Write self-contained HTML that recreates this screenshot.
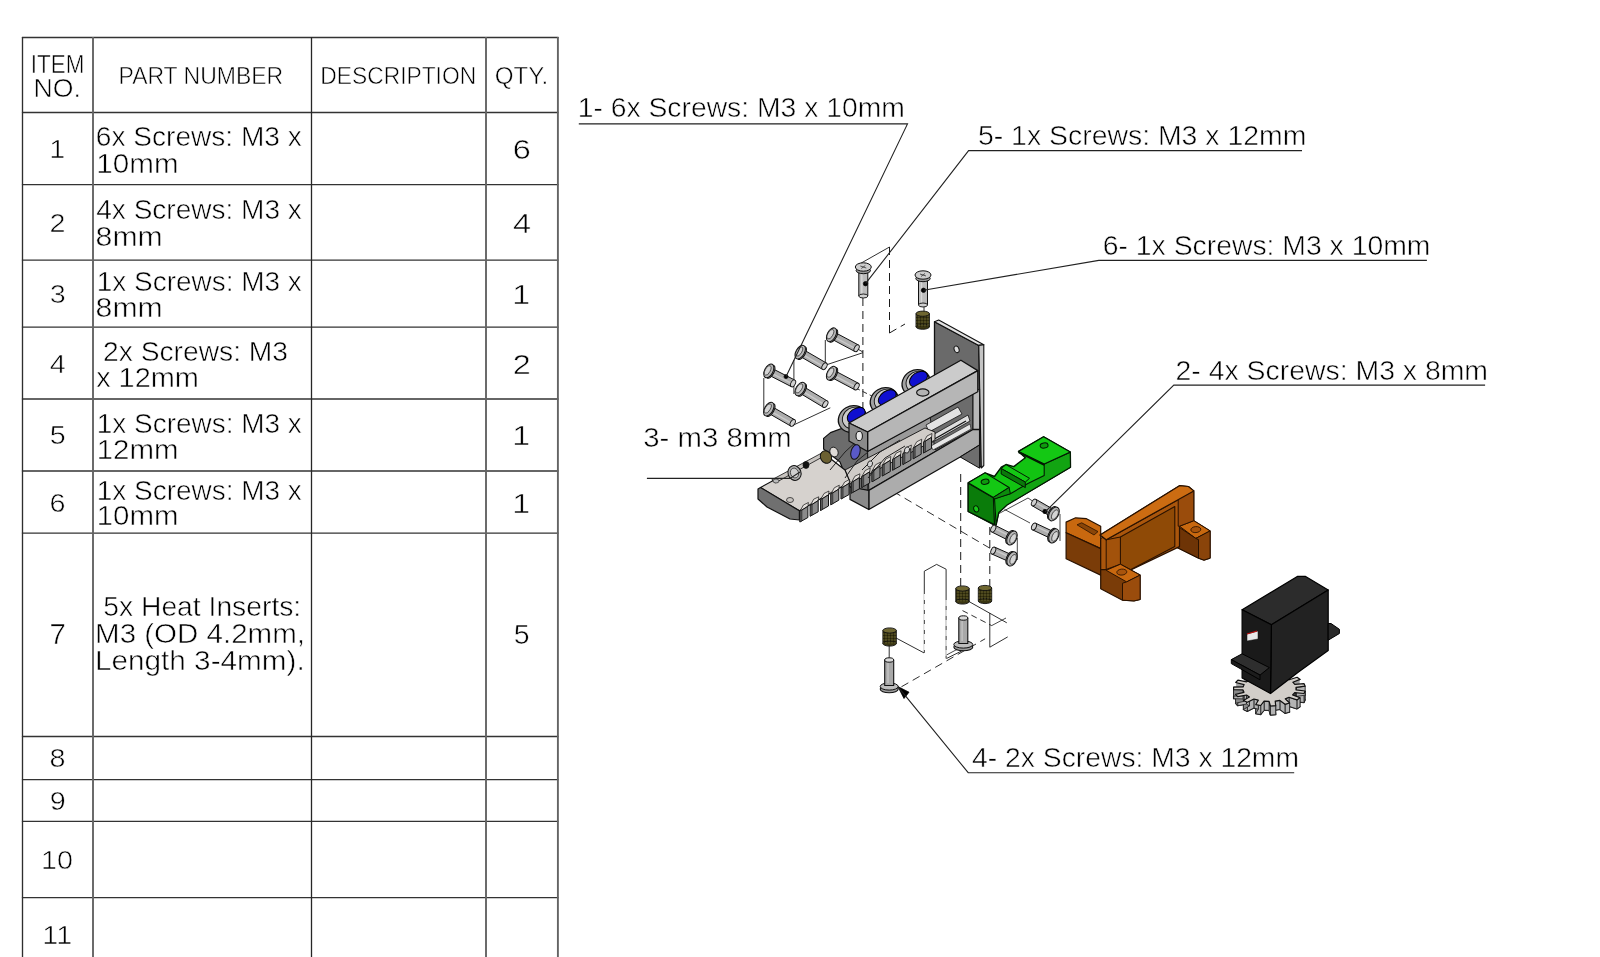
<!DOCTYPE html>
<html><head><meta charset="utf-8"><style>
html,body{margin:0;padding:0;background:#fff;}
body{width:1600px;height:957px;overflow:hidden;position:relative;}
svg{position:absolute;left:0;top:0;}
text{font-family:"Liberation Sans",sans-serif;}
#texts{stroke:#fff;stroke-width:0.55px;}
#textsvg{will-change:transform;}
</style></head><body>
<svg width="1600" height="957" viewBox="0 0 1600 957">
<g id="table">
<line x1="21.9" y1="37.5" x2="558.5" y2="37.5" stroke="#333" stroke-width="1.3"/>
<line x1="21.9" y1="112.5" x2="558.5" y2="112.5" stroke="#333" stroke-width="1.3"/>
<line x1="21.9" y1="184.7" x2="558.5" y2="184.7" stroke="#333" stroke-width="1.3"/>
<line x1="21.9" y1="260.1" x2="558.5" y2="260.1" stroke="#333" stroke-width="1.3"/>
<line x1="21.9" y1="327.2" x2="558.5" y2="327.2" stroke="#333" stroke-width="1.3"/>
<line x1="21.9" y1="399.0" x2="558.5" y2="399.0" stroke="#333" stroke-width="1.3"/>
<line x1="21.9" y1="471.0" x2="558.5" y2="471.0" stroke="#333" stroke-width="1.3"/>
<line x1="21.9" y1="533.2" x2="558.5" y2="533.2" stroke="#333" stroke-width="1.3"/>
<line x1="21.9" y1="736.5" x2="558.5" y2="736.5" stroke="#333" stroke-width="1.3"/>
<line x1="21.9" y1="779.6" x2="558.5" y2="779.6" stroke="#333" stroke-width="1.3"/>
<line x1="21.9" y1="821.4" x2="558.5" y2="821.4" stroke="#333" stroke-width="1.3"/>
<line x1="21.9" y1="897.6" x2="558.5" y2="897.6" stroke="#333" stroke-width="1.3"/>
<line x1="22.5" y1="36.9" x2="22.5" y2="960" stroke="#2e2e2e" stroke-width="1.35"/>
<line x1="93.0" y1="36.9" x2="93.0" y2="960" stroke="#646464" stroke-width="1.9"/>
<line x1="311.5" y1="36.9" x2="311.5" y2="960" stroke="#262626" stroke-width="1.3"/>
<line x1="486.0" y1="36.9" x2="486.0" y2="960" stroke="#646464" stroke-width="1.9"/>
<line x1="557.9" y1="36.9" x2="557.9" y2="960" stroke="#646464" stroke-width="1.9"/>
</g>
<g id="asm">
<defs><pattern id="knurl" width="3" height="3" patternUnits="userSpaceOnUse"><rect width="3" height="3" fill="none"/><circle cx="1" cy="1" r="0.7" fill="#76703a"/><circle cx="2.4" cy="2.4" r="0.5" fill="#1a1808"/></pattern></defs>
<polyline points="763.8,378.0 763.8,410.0" fill="none" stroke="#1a1a1a" stroke-width="0.9" />
<polyline points="793.9,360.0 793.9,394.0" fill="none" stroke="#1a1a1a" stroke-width="0.9" />
<polyline points="825.3,340.0 825.3,366.0" fill="none" stroke="#1a1a1a" stroke-width="0.9" />
<polyline points="792.7,425.4 830.3,407.8" fill="none" stroke="#1a1a1a" stroke-width="0.9" />
<polyline points="825.3,365.2 862.9,352.7" fill="none" stroke="#1a1a1a" stroke-width="0.9" />
<polyline points="856.0,348.0 862.9,352.0" fill="none" stroke="#1a1a1a" stroke-width="0.9" />
<polyline points="855.3,387.8 872.9,396.5" fill="none" stroke="#1a1a1a" stroke-width="0.9" stroke-dasharray="5,3"/>
<polyline points="862.9,298.0 862.9,470.0" fill="none" stroke="#1a1a1a" stroke-width="1.0" stroke-dasharray="8,5"/>
<polyline points="856.0,266.0 889.5,247.0" fill="none" stroke="#1a1a1a" stroke-width="0.9" />
<polyline points="889.5,247.0 889.5,333.0" fill="none" stroke="#1a1a1a" stroke-width="1.0" stroke-dasharray="8,5"/>
<polyline points="889.5,333.0 905.0,324.0" fill="none" stroke="#1a1a1a" stroke-width="1.0" stroke-dasharray="8,5"/>
<polyline points="924.0,305.0 924.0,313.0" fill="none" stroke="#1a1a1a" stroke-width="0.9" />
<polyline points="960.7,474.0 960.7,588.0" fill="none" stroke="#1a1a1a" stroke-width="1.0" stroke-dasharray="8,5"/>
<polyline points="989.8,527.0 989.8,588.0" fill="none" stroke="#1a1a1a" stroke-width="1.0" stroke-dasharray="8,5"/>
<polyline points="882.2,485.0 990.9,548.8" fill="none" stroke="#1a1a1a" stroke-width="0.9" stroke-dasharray="8,5"/>
<polyline points="999.0,513.5 1028.0,498.0 1034.0,502.0" fill="none" stroke="#1a1a1a" stroke-width="0.8" />
<polyline points="1004.5,509.4 1030.0,523.0" fill="none" stroke="#1a1a1a" stroke-width="0.8" />
<polyline points="1060.0,514.0 1060.0,541.0" fill="none" stroke="#1a1a1a" stroke-width="0.8" />
<polyline points="1017.3,538.0 1017.3,560.0" fill="none" stroke="#1a1a1a" stroke-width="0.8" />
<polyline points="924.3,652.9 924.3,571.2 936.6,564.4 946.1,569.2 946.1,658.5" fill="none" stroke="#1a1a1a" stroke-width="0.9" />
<polyline points="924.3,594.0 924.3,652.9" fill="none" stroke="#fff" stroke-width="1.2" stroke-dasharray="6,4"/>
<polyline points="946.1,600.0 946.1,658.5" fill="none" stroke="#fff" stroke-width="1.2" stroke-dasharray="6,4"/>
<polyline points="946.5,658.5 971.0,646.3" fill="none" stroke="#1a1a1a" stroke-width="0.9" />
<polyline points="946.5,655.0 969.0,643.0" fill="none" stroke="#1a1a1a" stroke-width="0.8" />
<polyline points="968.2,601.1 1006.8,622.8" fill="none" stroke="#1a1a1a" stroke-width="0.9" />
<polyline points="962.5,610.6 991.7,625.6" fill="none" stroke="#1a1a1a" stroke-width="0.9" stroke-dasharray="6,4"/>
<polyline points="989.8,613.0 989.8,647.2 1007.7,636.9" fill="none" stroke="#1a1a1a" stroke-width="0.9" />
<polyline points="991.7,625.6 1006.0,618.0" fill="none" stroke="#1a1a1a" stroke-width="0.8" />
<polyline points="901.4,686.8 985.1,638.8" fill="none" stroke="#1a1a1a" stroke-width="0.9" stroke-dasharray="8,5"/>
<polyline points="895.7,637.8 924.0,652.9" fill="none" stroke="#1a1a1a" stroke-width="0.9" />
<polyline points="889.2,643.0 889.2,660.0" fill="none" stroke="#1a1a1a" stroke-width="0.9" />
<polygon points="897.9,686.6 909.0,692.2 904.0,698.5" fill="#000" stroke="#000" stroke-width="0.8" stroke-linejoin="round" />
<polygon points="934.5,321.7 978.8,345.4 981.3,467.2 962.1,457.1 934.5,442.9" fill="#6a6a6a" stroke="#111" stroke-width="1.3" stroke-linejoin="round" />
<polygon points="934.5,321.7 938.7,320.0 983.8,344.7 978.8,345.4" fill="#e2e2e2" stroke="#111" stroke-width="1.1" stroke-linejoin="round" />
<polygon points="978.8,345.4 983.8,344.7 983.8,465.5 981.3,468.0" fill="#c4c4c4" stroke="#111" stroke-width="1.1" stroke-linejoin="round" />
<ellipse cx="956.6" cy="349.3" rx="2.4" ry="3.4" fill="#dcdcdc" stroke="#111" stroke-width="1.0" transform="rotate(-20 956.6 349.3)"/>
<polygon points="823.6,449.0 823.6,438.4 830.5,432.6 848.9,425.7 868.0,433.0 868.0,491.0 850.0,487.0 840.0,462.0" fill="#6c6c6c" stroke="#111" stroke-width="1.2" stroke-linejoin="round" />
<polygon points="867.6,451.5 973.0,393.5 973.0,429.5 868.8,490.4" fill="#9a9a9a" stroke="#111" stroke-width="1.0" stroke-linejoin="round" />
<polygon points="930.0,416.0 973.0,393.5 973.0,429.5 935.0,450.0" fill="#6c6c6c" stroke="#111" stroke-width="0.9" stroke-linejoin="round" />
<polygon points="926.0,425.0 958.0,407.0 962.0,414.0 929.0,432.0" fill="#e2e2e2" stroke="#111" stroke-width="0.8" stroke-linejoin="round" />
<polygon points="929.0,437.0 968.0,415.0 970.0,421.0 931.0,443.0" fill="#dedede" stroke="#111" stroke-width="0.8" stroke-linejoin="round" />
<polygon points="931.0,446.0 970.0,424.0 971.0,429.0 933.0,450.0" fill="#e6e6e6" stroke="#111" stroke-width="0.6" stroke-linejoin="round" />
<polyline points="931.0,441.0 966.0,421.0" fill="none" stroke="#111" stroke-width="1.3" />
<polygon points="973.0,393.0 979.6,389.0 979.6,445.0 973.0,449.0" fill="#b8b8b8" stroke="#111" stroke-width="1.0" stroke-linejoin="round" />
<polygon points="868.8,490.4 973.0,429.5 979.6,429.5 979.6,445.0 960.2,457.0 868.8,509.5" fill="#acacac" stroke="#111" stroke-width="1.3" stroke-linejoin="round" />
<polygon points="960.2,457.0 979.6,445.0 979.6,468.2" fill="#6e6e6e" stroke="#111" stroke-width="1.0" stroke-linejoin="round" />
<polygon points="850.0,487.0 868.8,490.4 868.8,509.5 850.0,499.4" fill="#8a8a8a" stroke="#111" stroke-width="1.2" stroke-linejoin="round" />
<polygon points="845.0,470.0 925.0,428.0 935.0,432.0 935.0,440.0 850.0,484.0" fill="#d0ccc8" stroke="#111" stroke-width="0.9" stroke-linejoin="round" />
<polygon points="760.5,487.5 823.6,453.3 845.0,470.0 850.0,482.0 799.4,510.8" fill="#d6d2ce" stroke="#111" stroke-width="1.2" stroke-linejoin="round" />
<polygon points="758.0,489.0 760.5,487.5 799.4,510.8 799.4,520.0 790.0,519.0 767.0,507.0 758.0,499.0" fill="#707070" stroke="#111" stroke-width="1.2" stroke-linejoin="round" />
<polygon points="771.8,479.8 823.6,452.0 826.0,455.0 775.0,483.0" fill="#c8c4c0" stroke="#111" stroke-width="0.8" stroke-linejoin="round" />
<polygon points="799.9,511.3 803.4,505.0 808.4,502.5 807.9,506.3" fill="#e4e0dc" stroke="#111" stroke-width="0.7" stroke-linejoin="round" />
<polygon points="799.9,511.3 807.9,506.3 807.9,517.5 799.9,522.0" fill="#8a8a8a" stroke="#111" stroke-width="1.0" stroke-linejoin="round" />
<polygon points="799.9,511.3 801.9,510.1 801.9,520.9 799.9,522.0" fill="#5a5a5a" stroke="#111" stroke-width="0.5" stroke-linejoin="round" />
<polygon points="810.2,505.6 813.7,499.2 818.7,496.8 818.2,500.6" fill="#e4e0dc" stroke="#111" stroke-width="0.7" stroke-linejoin="round" />
<polygon points="810.2,505.6 818.2,500.6 818.2,511.8 810.2,516.2" fill="#8a8a8a" stroke="#111" stroke-width="1.0" stroke-linejoin="round" />
<polygon points="810.2,505.6 812.2,504.4 812.2,515.1 810.2,516.2" fill="#5a5a5a" stroke="#111" stroke-width="0.5" stroke-linejoin="round" />
<polygon points="820.5,499.8 824.0,493.5 829.0,491.0 828.5,494.8" fill="#e4e0dc" stroke="#111" stroke-width="0.7" stroke-linejoin="round" />
<polygon points="820.5,499.8 828.5,494.8 828.5,506.0 820.5,510.5" fill="#8a8a8a" stroke="#111" stroke-width="1.0" stroke-linejoin="round" />
<polygon points="820.5,499.8 822.5,498.6 822.5,509.4 820.5,510.5" fill="#5a5a5a" stroke="#111" stroke-width="0.5" stroke-linejoin="round" />
<polygon points="830.8,494.1 834.3,487.8 839.3,485.2 838.8,489.1" fill="#e4e0dc" stroke="#111" stroke-width="0.7" stroke-linejoin="round" />
<polygon points="830.8,494.1 838.8,489.1 838.8,500.2 830.8,504.8" fill="#8a8a8a" stroke="#111" stroke-width="1.0" stroke-linejoin="round" />
<polygon points="830.8,494.1 832.8,492.9 832.8,503.6 830.8,504.8" fill="#5a5a5a" stroke="#111" stroke-width="0.5" stroke-linejoin="round" />
<polygon points="841.1,488.3 844.6,482.0 849.6,479.5 849.1,483.3" fill="#e4e0dc" stroke="#111" stroke-width="0.7" stroke-linejoin="round" />
<polygon points="841.1,488.3 849.1,483.3 849.1,494.5 841.1,499.0" fill="#8a8a8a" stroke="#111" stroke-width="1.0" stroke-linejoin="round" />
<polygon points="841.1,488.3 843.1,487.1 843.1,497.9 841.1,499.0" fill="#5a5a5a" stroke="#111" stroke-width="0.5" stroke-linejoin="round" />
<polygon points="851.4,482.6 854.9,476.2 859.9,473.8 859.4,477.6" fill="#e4e0dc" stroke="#111" stroke-width="0.7" stroke-linejoin="round" />
<polygon points="851.4,482.6 859.4,477.6 859.4,488.8 851.4,493.2" fill="#8a8a8a" stroke="#111" stroke-width="1.0" stroke-linejoin="round" />
<polygon points="851.4,482.6 853.4,481.4 853.4,492.1 851.4,493.2" fill="#5a5a5a" stroke="#111" stroke-width="0.5" stroke-linejoin="round" />
<polygon points="861.7,476.8 865.2,470.5 870.2,468.0 869.7,471.8" fill="#e4e0dc" stroke="#111" stroke-width="0.7" stroke-linejoin="round" />
<polygon points="861.7,476.8 869.7,471.8 869.7,483.0 861.7,487.5" fill="#8a8a8a" stroke="#111" stroke-width="1.0" stroke-linejoin="round" />
<polygon points="861.7,476.8 863.7,475.6 863.7,486.4 861.7,487.5" fill="#5a5a5a" stroke="#111" stroke-width="0.5" stroke-linejoin="round" />
<polygon points="872.0,471.1 875.5,464.8 880.5,462.2 880.0,466.1" fill="#e4e0dc" stroke="#111" stroke-width="0.7" stroke-linejoin="round" />
<polygon points="872.0,471.1 880.0,466.1 880.0,477.2 872.0,481.8" fill="#8a8a8a" stroke="#111" stroke-width="1.0" stroke-linejoin="round" />
<polygon points="872.0,471.1 874.0,469.9 874.0,480.6 872.0,481.8" fill="#5a5a5a" stroke="#111" stroke-width="0.5" stroke-linejoin="round" />
<polygon points="882.3,465.3 885.8,459.0 890.8,456.5 890.3,460.3" fill="#e4e0dc" stroke="#111" stroke-width="0.7" stroke-linejoin="round" />
<polygon points="882.3,465.3 890.3,460.3 890.3,471.5 882.3,476.0" fill="#8a8a8a" stroke="#111" stroke-width="1.0" stroke-linejoin="round" />
<polygon points="882.3,465.3 884.3,464.1 884.3,474.9 882.3,476.0" fill="#5a5a5a" stroke="#111" stroke-width="0.5" stroke-linejoin="round" />
<polygon points="892.6,459.6 896.1,453.2 901.1,450.8 900.6,454.6" fill="#e4e0dc" stroke="#111" stroke-width="0.7" stroke-linejoin="round" />
<polygon points="892.6,459.6 900.6,454.6 900.6,465.8 892.6,470.2" fill="#8a8a8a" stroke="#111" stroke-width="1.0" stroke-linejoin="round" />
<polygon points="892.6,459.6 894.6,458.4 894.6,469.1 892.6,470.2" fill="#5a5a5a" stroke="#111" stroke-width="0.5" stroke-linejoin="round" />
<polygon points="902.9,453.8 906.4,447.5 911.4,445.0 910.9,448.8" fill="#e4e0dc" stroke="#111" stroke-width="0.7" stroke-linejoin="round" />
<polygon points="902.9,453.8 910.9,448.8 910.9,460.0 902.9,464.5" fill="#8a8a8a" stroke="#111" stroke-width="1.0" stroke-linejoin="round" />
<polygon points="902.9,453.8 904.9,452.6 904.9,463.4 902.9,464.5" fill="#5a5a5a" stroke="#111" stroke-width="0.5" stroke-linejoin="round" />
<polygon points="913.2,448.1 916.7,441.8 921.7,439.2 921.2,443.1" fill="#e4e0dc" stroke="#111" stroke-width="0.7" stroke-linejoin="round" />
<polygon points="913.2,448.1 921.2,443.1 921.2,454.2 913.2,458.8" fill="#8a8a8a" stroke="#111" stroke-width="1.0" stroke-linejoin="round" />
<polygon points="913.2,448.1 915.2,446.9 915.2,457.6 913.2,458.8" fill="#5a5a5a" stroke="#111" stroke-width="0.5" stroke-linejoin="round" />
<polygon points="923.5,442.3 927.0,436.0 932.0,433.5 931.5,437.3" fill="#e4e0dc" stroke="#111" stroke-width="0.7" stroke-linejoin="round" />
<polygon points="923.5,442.3 931.5,437.3 931.5,448.5 923.5,453.0" fill="#8a8a8a" stroke="#111" stroke-width="1.0" stroke-linejoin="round" />
<polygon points="923.5,442.3 925.5,441.1 925.5,451.9 923.5,453.0" fill="#5a5a5a" stroke="#111" stroke-width="0.5" stroke-linejoin="round" />
<polyline points="830.0,470.0 845.0,452.0 858.0,440.0" fill="none" stroke="#222" stroke-width="1.0" />
<polyline points="845.0,478.0 857.0,461.0 868.0,452.0" fill="none" stroke="#222" stroke-width="1.0" />
<polyline points="862.0,470.0 880.0,452.0 900.0,440.0" fill="none" stroke="#222" stroke-width="1.0" />
<polyline points="868.0,478.0 885.0,458.0 905.0,446.0" fill="none" stroke="#222" stroke-width="1.0" />
<ellipse cx="870.0" cy="464.0" rx="2.4" ry="3.2" fill="#d8d8d8" stroke="#111" stroke-width="0.8" transform="rotate(20 870.0 464.0)"/>
<ellipse cx="907.0" cy="450.0" rx="2.4" ry="3.2" fill="#d8d8d8" stroke="#111" stroke-width="0.8" transform="rotate(20 907.0 450.0)"/>
<ellipse cx="852.5" cy="419.0" rx="14.5" ry="13" fill="#a2a2a2" stroke="#111" stroke-width="1.3" transform="rotate(-30 852.5 419.0)"/>
<ellipse cx="854.0" cy="418.0" rx="12" ry="10.5" fill="#cacaca" stroke="#111" stroke-width="0.9" transform="rotate(-30 854.0 418.0)"/>
<ellipse cx="856.2" cy="415.2" rx="10" ry="6.5" fill="#1010d0" stroke="#000" stroke-width="1.0" transform="rotate(-35 856.2 415.2)"/>
<ellipse cx="884.4" cy="401.0" rx="14.5" ry="13" fill="#a2a2a2" stroke="#111" stroke-width="1.3" transform="rotate(-30 884.4 401.0)"/>
<ellipse cx="885.9" cy="400.0" rx="12" ry="10.5" fill="#cacaca" stroke="#111" stroke-width="0.9" transform="rotate(-30 885.9 400.0)"/>
<ellipse cx="887.3" cy="397.6" rx="10" ry="6.5" fill="#1010d0" stroke="#000" stroke-width="1.0" transform="rotate(-35 887.3 397.6)"/>
<ellipse cx="916.2" cy="383.0" rx="14.5" ry="13" fill="#a2a2a2" stroke="#111" stroke-width="1.3" transform="rotate(-30 916.2 383.0)"/>
<ellipse cx="917.7" cy="382.0" rx="12" ry="10.5" fill="#cacaca" stroke="#111" stroke-width="0.9" transform="rotate(-30 917.7 382.0)"/>
<ellipse cx="918.4" cy="379.0" rx="10" ry="6.5" fill="#1010d0" stroke="#000" stroke-width="1.0" transform="rotate(-35 918.4 379.0)"/>
<polygon points="849.0,423.0 960.9,360.2 977.8,370.6 867.6,432.0" fill="#cbcbcb" stroke="#111" stroke-width="1.3" stroke-linejoin="round" />
<polygon points="867.6,432.0 977.8,370.6 977.8,391.7 867.6,451.5" fill="#b6b6b6" stroke="#111" stroke-width="1.3" stroke-linejoin="round" />
<polygon points="849.0,423.0 867.6,432.0 867.6,451.5 849.0,441.0" fill="#8a8a8a" stroke="#111" stroke-width="1.2" stroke-linejoin="round" />
<ellipse cx="859.2" cy="436.0" rx="3.2" ry="4.6" fill="#e8e8e8" stroke="#111" stroke-width="1.0" transform="rotate(0 859.2 436.0)"/>
<ellipse cx="922.8" cy="392.5" rx="6.2" ry="3.6" fill="#b4b4b4" stroke="#111" stroke-width="1.1" transform="rotate(0 922.8 392.5)"/>
<ellipse cx="855.5" cy="452.0" rx="4.5" ry="7.5" fill="#5a5ac8" stroke="#111" stroke-width="1.0" transform="rotate(15 855.5 452.0)"/>
<ellipse cx="826.0" cy="457.0" rx="5.5" ry="6.5" fill="#6b6032" stroke="#111" stroke-width="1.0" transform="rotate(-25 826.0 457.0)"/>
<ellipse cx="834.0" cy="452.0" rx="4" ry="5" fill="#dedad6" stroke="#111" stroke-width="0.8" transform="rotate(-25 834.0 452.0)"/>
<ellipse cx="806.0" cy="465.0" rx="3" ry="3.4" fill="#111" stroke="#111" stroke-width="0.8" transform="rotate(0 806.0 465.0)"/>
<ellipse cx="794.5" cy="473.0" rx="6.5" ry="7.5" fill="#b0b0b0" stroke="#111" stroke-width="1.0" transform="rotate(-20 794.5 473.0)"/>
<ellipse cx="794.5" cy="473.0" rx="4" ry="5" fill="#cfcfcf" stroke="#111" stroke-width="0.6" transform="rotate(-20 794.5 473.0)"/>
<ellipse cx="776.0" cy="481.0" rx="3" ry="2" fill="#bbb" stroke="#111" stroke-width="0.6" transform="rotate(0 776.0 481.0)"/>
<ellipse cx="790.0" cy="500.0" rx="3.5" ry="2.5" fill="#c8c4c0" stroke="#111" stroke-width="0.7" transform="rotate(0 790.0 500.0)"/>
<polygon points="829.8,338.1 854.9,351.5 858.3,344.9 833.2,331.5" fill="#adadad" stroke="#111" stroke-width="1.0" stroke-linejoin="round" />
<polyline points="833.8,336.9 854.5,348.0" fill="none" stroke="#cacaca" stroke-width="1.4" />
<ellipse cx="856.6" cy="348.2" rx="2.2" ry="3.7" fill="#d0d0d0" stroke="#111" stroke-width="0.9" transform="rotate(28.09617756072281 856.6 348.2)"/>
<ellipse cx="833.3" cy="335.7" rx="3.3600000000000003" ry="7.125" fill="#9c9c9c" stroke="#111" stroke-width="1.0" transform="rotate(28.09617756072281 833.3 335.7)"/>
<ellipse cx="831.5" cy="334.8" rx="4.2" ry="7.5" fill="#b8b8b8" stroke="#111" stroke-width="1.0" transform="rotate(28.09617756072281 831.5 334.8)"/>
<ellipse cx="830.4" cy="334.2" rx="2.52" ry="5.25" fill="#d4d4d4" stroke="#111" stroke-width="0.6" transform="rotate(28.09617756072281 830.4 334.2)"/>
<polygon points="798.3,355.3 822.6,369.4 826.4,363.0 802.1,348.9" fill="#adadad" stroke="#111" stroke-width="1.0" stroke-linejoin="round" />
<polyline points="802.4,354.3 822.4,365.9" fill="none" stroke="#cacaca" stroke-width="1.4" />
<ellipse cx="824.5" cy="366.2" rx="2.2" ry="3.7" fill="#d0d0d0" stroke="#111" stroke-width="0.9" transform="rotate(30.12431799836119 824.5 366.2)"/>
<ellipse cx="801.9" cy="353.1" rx="3.3600000000000003" ry="7.125" fill="#9c9c9c" stroke="#111" stroke-width="1.0" transform="rotate(30.12431799836119 801.9 353.1)"/>
<ellipse cx="800.2" cy="352.1" rx="4.2" ry="7.5" fill="#b8b8b8" stroke="#111" stroke-width="1.0" transform="rotate(30.12431799836119 800.2 352.1)"/>
<ellipse cx="799.2" cy="351.5" rx="2.52" ry="5.25" fill="#d4d4d4" stroke="#111" stroke-width="0.6" transform="rotate(30.12431799836119 799.2 351.5)"/>
<polygon points="767.1,374.2 791.4,386.7 794.8,380.1 770.5,367.6" fill="#adadad" stroke="#111" stroke-width="1.0" stroke-linejoin="round" />
<polyline points="771.1,373.0 791.0,383.2" fill="none" stroke="#cacaca" stroke-width="1.4" />
<ellipse cx="793.1" cy="383.4" rx="2.2" ry="3.7" fill="#d0d0d0" stroke="#111" stroke-width="0.9" transform="rotate(27.221438919403923 793.1 383.4)"/>
<ellipse cx="770.6" cy="371.8" rx="3.3600000000000003" ry="7.125" fill="#9c9c9c" stroke="#111" stroke-width="1.0" transform="rotate(27.221438919403923 770.6 371.8)"/>
<ellipse cx="768.8" cy="370.9" rx="4.2" ry="7.5" fill="#b8b8b8" stroke="#111" stroke-width="1.0" transform="rotate(27.221438919403923 768.8 370.9)"/>
<ellipse cx="767.7" cy="370.4" rx="2.52" ry="5.25" fill="#d4d4d4" stroke="#111" stroke-width="0.6" transform="rotate(27.221438919403923 767.7 370.4)"/>
<polygon points="829.8,376.5 854.9,389.8 858.3,383.2 833.2,369.9" fill="#adadad" stroke="#111" stroke-width="1.0" stroke-linejoin="round" />
<polyline points="833.8,375.3 854.5,386.3" fill="none" stroke="#cacaca" stroke-width="1.4" />
<ellipse cx="856.6" cy="386.5" rx="2.2" ry="3.7" fill="#d0d0d0" stroke="#111" stroke-width="0.9" transform="rotate(27.91824313085768 856.6 386.5)"/>
<ellipse cx="833.3" cy="374.1" rx="3.3600000000000003" ry="7.125" fill="#9c9c9c" stroke="#111" stroke-width="1.0" transform="rotate(27.91824313085768 833.3 374.1)"/>
<ellipse cx="831.5" cy="373.2" rx="4.2" ry="7.5" fill="#b8b8b8" stroke="#111" stroke-width="1.0" transform="rotate(27.91824313085768 831.5 373.2)"/>
<ellipse cx="830.4" cy="372.6" rx="2.52" ry="5.25" fill="#d4d4d4" stroke="#111" stroke-width="0.6" transform="rotate(27.91824313085768 830.4 372.6)"/>
<polygon points="798.3,392.2 823.4,407.3 827.2,400.9 802.1,385.8" fill="#adadad" stroke="#111" stroke-width="1.0" stroke-linejoin="round" />
<polyline points="802.4,391.2 823.2,403.8" fill="none" stroke="#cacaca" stroke-width="1.4" />
<ellipse cx="825.3" cy="404.1" rx="2.2" ry="3.7" fill="#d0d0d0" stroke="#111" stroke-width="0.9" transform="rotate(31.030847578122962 825.3 404.1)"/>
<ellipse cx="801.9" cy="390.0" rx="3.3600000000000003" ry="7.125" fill="#9c9c9c" stroke="#111" stroke-width="1.0" transform="rotate(31.030847578122962 801.9 390.0)"/>
<ellipse cx="800.2" cy="389.0" rx="4.2" ry="7.5" fill="#b8b8b8" stroke="#111" stroke-width="1.0" transform="rotate(31.030847578122962 800.2 389.0)"/>
<ellipse cx="799.2" cy="388.4" rx="2.52" ry="5.25" fill="#d4d4d4" stroke="#111" stroke-width="0.6" transform="rotate(31.030847578122962 799.2 388.4)"/>
<polygon points="766.9,412.3 790.8,426.1 794.6,419.7 770.7,405.9" fill="#adadad" stroke="#111" stroke-width="1.0" stroke-linejoin="round" />
<polyline points="771.0,411.3 790.6,422.6" fill="none" stroke="#cacaca" stroke-width="1.4" />
<ellipse cx="792.7" cy="422.9" rx="2.2" ry="3.7" fill="#d0d0d0" stroke="#111" stroke-width="0.9" transform="rotate(30.002388684520938 792.7 422.9)"/>
<ellipse cx="770.5" cy="410.1" rx="3.3600000000000003" ry="7.125" fill="#9c9c9c" stroke="#111" stroke-width="1.0" transform="rotate(30.002388684520938 770.5 410.1)"/>
<ellipse cx="768.8" cy="409.1" rx="4.2" ry="7.5" fill="#b8b8b8" stroke="#111" stroke-width="1.0" transform="rotate(30.002388684520938 768.8 409.1)"/>
<ellipse cx="767.8" cy="408.5" rx="2.52" ry="5.25" fill="#d4d4d4" stroke="#111" stroke-width="0.6" transform="rotate(30.002388684520938 767.8 408.5)"/>
<ellipse cx="786.0" cy="376.6" rx="2" ry="2" fill="#000" stroke="#111" stroke-width="0.8" transform="rotate(0 786.0 376.6)"/>
<polygon points="858.8,270.0 867.8,270.0 867.8,296.0 858.8,296.0" fill="#bcbcbc" stroke="#111" stroke-width="1.0" stroke-linejoin="round" />
<polyline points="861.8,273.0 861.8,294.0" fill="none" stroke="#d8d8d8" stroke-width="1.4" />
<ellipse cx="863.3" cy="296.0" rx="4.5" ry="2" fill="#d0d0d0" stroke="#111" stroke-width="0.9" transform="rotate(0 863.3 296.0)"/>
<ellipse cx="863.3" cy="270.5" rx="7.2" ry="3.2" fill="#9a9a9a" stroke="#111" stroke-width="1.0" transform="rotate(0 863.3 270.5)"/>
<ellipse cx="863.3" cy="267.0" rx="8" ry="4.2" fill="#cdcdcd" stroke="#111" stroke-width="1.0" transform="rotate(0 863.3 267.0)"/>
<polyline points="860.3,266.0 866.3,268.0" fill="none" stroke="#333" stroke-width="0.8" />
<polyline points="861.3,268.5 865.3,265.5" fill="none" stroke="#333" stroke-width="0.8" />
<polygon points="918.5,278.0 927.5,278.0 927.5,305.0 918.5,305.0" fill="#bcbcbc" stroke="#111" stroke-width="1.0" stroke-linejoin="round" />
<polyline points="921.5,281.0 921.5,303.0" fill="none" stroke="#d8d8d8" stroke-width="1.4" />
<ellipse cx="923.0" cy="305.0" rx="4.5" ry="2" fill="#d0d0d0" stroke="#111" stroke-width="0.9" transform="rotate(0 923.0 305.0)"/>
<ellipse cx="923.0" cy="278.5" rx="7.2" ry="3.2" fill="#9a9a9a" stroke="#111" stroke-width="1.0" transform="rotate(0 923.0 278.5)"/>
<ellipse cx="923.0" cy="275.0" rx="8" ry="4.2" fill="#cdcdcd" stroke="#111" stroke-width="1.0" transform="rotate(0 923.0 275.0)"/>
<polyline points="920.0,274.0 926.0,276.0" fill="none" stroke="#333" stroke-width="0.8" />
<polyline points="921.0,276.5 925.0,273.5" fill="none" stroke="#333" stroke-width="0.8" />
<ellipse cx="865.5" cy="283.7" rx="2.2" ry="2.2" fill="#000" stroke="#111" stroke-width="0.8" transform="rotate(0 865.5 283.7)"/>
<ellipse cx="923.5" cy="290.3" rx="2.2" ry="2.2" fill="#000" stroke="#111" stroke-width="0.8" transform="rotate(0 923.5 290.3)"/>
<ellipse cx="889.2" cy="689.0" rx="9" ry="3.8" fill="#9a9a9a" stroke="#111" stroke-width="1.1" transform="rotate(0 889.2 689.0)"/>
<ellipse cx="889.2" cy="686.5" rx="9" ry="3.6" fill="#bdbdbd" stroke="#111" stroke-width="1.0" transform="rotate(0 889.2 686.5)"/>
<polygon points="884.7,660.0 893.7,660.0 893.7,685.5 884.7,685.5" fill="#a8a8a8" stroke="#111" stroke-width="1.1" stroke-linejoin="round" />
<polyline points="888.0,662.0 888.0,683.0" fill="none" stroke="#c4c4c4" stroke-width="1.4" />
<ellipse cx="889.2" cy="660.0" rx="4.5" ry="2.2" fill="#dadada" stroke="#111" stroke-width="1.0" transform="rotate(0 889.2 660.0)"/>
<ellipse cx="963.3" cy="647.0" rx="9.5" ry="3.8" fill="#9a9a9a" stroke="#111" stroke-width="1.1" transform="rotate(0 963.3 647.0)"/>
<ellipse cx="963.3" cy="644.5" rx="9.5" ry="3.6" fill="#bdbdbd" stroke="#111" stroke-width="1.0" transform="rotate(0 963.3 644.5)"/>
<polygon points="958.8,618.0 967.8,618.0 967.8,643.5 958.8,643.5" fill="#a8a8a8" stroke="#111" stroke-width="1.1" stroke-linejoin="round" />
<polyline points="962.1,620.0 962.1,641.0" fill="none" stroke="#c4c4c4" stroke-width="1.4" />
<ellipse cx="963.3" cy="618.0" rx="4.5" ry="2.2" fill="#dadada" stroke="#111" stroke-width="1.0" transform="rotate(0 963.3 618.0)"/>
<polygon points="916.0,313.7 929.4,313.7 929.4,326.7 916.0,326.7" fill="#36320f" stroke="#111" stroke-width="0.9" stroke-linejoin="round" />
<ellipse cx="922.7" cy="326.7" rx="6.7" ry="2.6" fill="#3a3612" stroke="#111" stroke-width="0.9" transform="rotate(0 922.7 326.7)"/>
<polygon points="916.0,313.7 929.4,313.7 929.4,326.7 916.0,326.7" fill="url(#knurl)" stroke="none" stroke-width="0" stroke-linejoin="round" />
<ellipse cx="922.7" cy="313.7" rx="6.7" ry="2.6" fill="#6e6630" stroke="#111" stroke-width="0.9" transform="rotate(0 922.7 313.7)"/>
<polygon points="955.8,588.5 969.2,588.5 969.2,601.5 955.8,601.5" fill="#36320f" stroke="#111" stroke-width="0.9" stroke-linejoin="round" />
<ellipse cx="962.5" cy="601.5" rx="6.7" ry="2.6" fill="#3a3612" stroke="#111" stroke-width="0.9" transform="rotate(0 962.5 601.5)"/>
<polygon points="955.8,588.5 969.2,588.5 969.2,601.5 955.8,601.5" fill="url(#knurl)" stroke="none" stroke-width="0" stroke-linejoin="round" />
<ellipse cx="962.5" cy="588.5" rx="6.7" ry="2.6" fill="#6e6630" stroke="#111" stroke-width="0.9" transform="rotate(0 962.5 588.5)"/>
<polygon points="978.3,588.0 991.7,588.0 991.7,601.0 978.3,601.0" fill="#36320f" stroke="#111" stroke-width="0.9" stroke-linejoin="round" />
<ellipse cx="985.0" cy="601.0" rx="6.7" ry="2.6" fill="#3a3612" stroke="#111" stroke-width="0.9" transform="rotate(0 985.0 601.0)"/>
<polygon points="978.3,588.0 991.7,588.0 991.7,601.0 978.3,601.0" fill="url(#knurl)" stroke="none" stroke-width="0" stroke-linejoin="round" />
<ellipse cx="985.0" cy="588.0" rx="6.7" ry="2.6" fill="#6e6630" stroke="#111" stroke-width="0.9" transform="rotate(0 985.0 588.0)"/>
<polygon points="882.9,630.5 896.3,630.5 896.3,643.5 882.9,643.5" fill="#36320f" stroke="#111" stroke-width="0.9" stroke-linejoin="round" />
<ellipse cx="889.6" cy="643.5" rx="6.7" ry="2.6" fill="#3a3612" stroke="#111" stroke-width="0.9" transform="rotate(0 889.6 643.5)"/>
<polygon points="882.9,630.5 896.3,630.5 896.3,643.5 882.9,643.5" fill="url(#knurl)" stroke="none" stroke-width="0" stroke-linejoin="round" />
<ellipse cx="889.6" cy="630.5" rx="6.7" ry="2.6" fill="#6e6630" stroke="#111" stroke-width="0.9" transform="rotate(0 889.6 630.5)"/>
<polygon points="968.2,482.8 985.1,472.9 994.5,476.5 1001.3,467.1 1006.0,464.5 1013.8,466.6 1025.3,457.7 1018.5,451.4 1043.6,436.8 1070.3,452.0 1070.5,467.2 1007.0,504.9 998.7,512.6 996.1,525.1 994.5,525.1 968.2,511.5" fill="#12c412" stroke="#031803" stroke-width="1.4" stroke-linejoin="round" />
<polygon points="994.5,498.5 1010.4,493.7 1027.9,483.5 1044.2,475.4 1044.2,464.1 1070.2,452.2 1070.5,467.2 1007.0,504.9 998.7,512.6 996.1,524.6" fill="#12a412" stroke="#031803" stroke-width="1.1" stroke-linejoin="round" />
<polygon points="968.2,483.3 993.4,497.7 994.5,524.6 968.2,511.5" fill="#0a7c0a" stroke="#031803" stroke-width="1.2" stroke-linejoin="round" />
<polygon points="968.2,482.8 985.1,472.9 1009.1,487.5 993.4,497.4" fill="#14c814" stroke="#031803" stroke-width="1.1" stroke-linejoin="round" />
<polygon points="993.4,497.4 1009.1,487.5 1010.4,493.7 994.5,499.0" fill="#0c8a0c" stroke="#031803" stroke-width="1.0" stroke-linejoin="round" />
<polygon points="1001.2,468.5 1006.0,464.7 1029.5,478.3 1025.3,482.1" fill="#14c814" stroke="#031803" stroke-width="1.0" stroke-linejoin="round" />
<polygon points="1001.2,468.5 1025.3,482.1 1025.3,487.6 1001.2,474.0" fill="#0a7a0a" stroke="#031803" stroke-width="1.0" stroke-linejoin="round" />
<polygon points="1018.5,451.4 1043.6,436.8 1070.3,452.0 1044.2,464.1" fill="#14c814" stroke="#031803" stroke-width="1.1" stroke-linejoin="round" />
<polyline points="1018.5,452.2 1044.2,464.9" fill="none" stroke="#031803" stroke-width="2.0" />
<ellipse cx="985.1" cy="481.7" rx="4" ry="2.6" fill="#0e9a0e" stroke="#031803" stroke-width="1.0" transform="rotate(-10 985.1 481.7)"/>
<ellipse cx="1044.1" cy="445.5" rx="4" ry="2.6" fill="#0e9a0e" stroke="#031803" stroke-width="1.0" transform="rotate(-10 1044.1 445.5)"/>
<ellipse cx="976.2" cy="508.9" rx="2.4" ry="3.2" fill="#18c818" stroke="#031803" stroke-width="1.0" transform="rotate(-20 976.2 508.9)"/>
<polygon points="1055.8,510.8 1035.9,499.3 1032.1,505.7 1052.0,517.2" fill="#adadad" stroke="#111" stroke-width="1.0" stroke-linejoin="round" />
<polyline points="1051.7,511.8 1036.1,502.8" fill="none" stroke="#cacaca" stroke-width="1.4" />
<ellipse cx="1034.0" cy="502.5" rx="2.2" ry="3.7" fill="#d0d0d0" stroke="#111" stroke-width="0.9" transform="rotate(-149.9768359395422 1034.0 502.5)"/>
<ellipse cx="1052.2" cy="513.0" rx="3.6" ry="7.125" fill="#9c9c9c" stroke="#111" stroke-width="1.0" transform="rotate(-149.9768359395422 1052.2 513.0)"/>
<ellipse cx="1053.9" cy="514.0" rx="4.5" ry="7.5" fill="#b8b8b8" stroke="#111" stroke-width="1.0" transform="rotate(-149.9768359395422 1053.9 514.0)"/>
<ellipse cx="1054.9" cy="514.6" rx="2.6999999999999997" ry="5.25" fill="#d4d4d4" stroke="#111" stroke-width="0.6" transform="rotate(-149.9768359395422 1054.9 514.6)"/>
<polygon points="1055.5,532.6 1035.6,523.2 1032.4,529.8 1052.3,539.2" fill="#adadad" stroke="#111" stroke-width="1.0" stroke-linejoin="round" />
<polyline points="1051.5,533.9 1036.2,526.6" fill="none" stroke="#cacaca" stroke-width="1.4" />
<ellipse cx="1034.0" cy="526.5" rx="2.2" ry="3.7" fill="#d0d0d0" stroke="#111" stroke-width="0.9" transform="rotate(-154.71573864332598 1034.0 526.5)"/>
<ellipse cx="1052.1" cy="535.0" rx="3.6" ry="7.125" fill="#9c9c9c" stroke="#111" stroke-width="1.0" transform="rotate(-154.71573864332598 1052.1 535.0)"/>
<ellipse cx="1053.9" cy="535.9" rx="4.5" ry="7.5" fill="#b8b8b8" stroke="#111" stroke-width="1.0" transform="rotate(-154.71573864332598 1053.9 535.9)"/>
<ellipse cx="1055.0" cy="536.4" rx="2.6999999999999997" ry="5.25" fill="#d4d4d4" stroke="#111" stroke-width="0.6" transform="rotate(-154.71573864332598 1055.0 536.4)"/>
<polygon points="1013.7,534.7 995.0,525.3 991.6,531.9 1010.3,541.3" fill="#adadad" stroke="#111" stroke-width="1.0" stroke-linejoin="round" />
<polyline points="1009.7,535.9 995.4,528.8" fill="none" stroke="#cacaca" stroke-width="1.4" />
<ellipse cx="993.3" cy="528.6" rx="2.2" ry="3.7" fill="#d0d0d0" stroke="#111" stroke-width="0.9" transform="rotate(-153.312522129942 993.3 528.6)"/>
<ellipse cx="1010.2" cy="537.1" rx="3.6" ry="7.125" fill="#9c9c9c" stroke="#111" stroke-width="1.0" transform="rotate(-153.312522129942 1010.2 537.1)"/>
<ellipse cx="1012.0" cy="538.0" rx="4.5" ry="7.5" fill="#b8b8b8" stroke="#111" stroke-width="1.0" transform="rotate(-153.312522129942 1012.0 538.0)"/>
<ellipse cx="1013.1" cy="538.5" rx="2.6999999999999997" ry="5.25" fill="#d4d4d4" stroke="#111" stroke-width="0.6" transform="rotate(-153.312522129942 1013.1 538.5)"/>
<polygon points="1013.5,555.5 994.8,547.2 991.8,554.0 1010.5,562.3" fill="#adadad" stroke="#111" stroke-width="1.0" stroke-linejoin="round" />
<polyline points="1009.6,557.0 995.5,550.7" fill="none" stroke="#cacaca" stroke-width="1.4" />
<ellipse cx="993.3" cy="550.6" rx="2.2" ry="3.7" fill="#d0d0d0" stroke="#111" stroke-width="0.9" transform="rotate(-156.0659456531189 993.3 550.6)"/>
<ellipse cx="1010.2" cy="558.1" rx="3.6" ry="7.125" fill="#9c9c9c" stroke="#111" stroke-width="1.0" transform="rotate(-156.0659456531189 1010.2 558.1)"/>
<ellipse cx="1012.0" cy="558.9" rx="4.5" ry="7.5" fill="#b8b8b8" stroke="#111" stroke-width="1.0" transform="rotate(-156.0659456531189 1012.0 558.9)"/>
<ellipse cx="1013.1" cy="559.4" rx="2.6999999999999997" ry="5.25" fill="#d4d4d4" stroke="#111" stroke-width="0.6" transform="rotate(-156.0659456531189 1013.1 559.4)"/>
<ellipse cx="1045.0" cy="511.5" rx="2.2" ry="2.2" fill="#000" stroke="#111" stroke-width="0.8" transform="rotate(0 1045.0 511.5)"/>
<polygon points="1066.1,522.1 1075.6,517.8 1086.5,518.7 1100.7,526.2 1100.7,548.6 1066.1,532.7" fill="#c8680f" stroke="#2a1200" stroke-width="1.2" stroke-linejoin="round" />
<polygon points="1066.1,532.7 1100.7,548.6 1100.7,575.1 1066.1,558.8" fill="#7a3c08" stroke="#2a1200" stroke-width="1.2" stroke-linejoin="round" />
<polygon points="1077.0,524.8 1081.7,522.8 1098.0,531.6 1094.0,535.0" fill="#8a4508" stroke="#2a1200" stroke-width="0.8" stroke-linejoin="round" />
<polygon points="1175.4,504.4 1193.8,492.2 1193.8,520.7 1210.1,530.9 1210.1,558.1 1204.0,560.1 1198.5,558.1 1175.4,546.6" fill="#a8540c" stroke="#2a1200" stroke-width="1.2" stroke-linejoin="round" />
<polygon points="1179.5,526.2 1193.8,520.7 1210.1,530.9 1195.8,538.4" fill="#c8680f" stroke="#2a1200" stroke-width="1.0" stroke-linejoin="round" />
<polygon points="1195.8,538.4 1210.1,530.9 1210.1,558.1 1204.0,560.1 1198.5,558.1 1198.5,539.8" fill="#8a440a" stroke="#2a1200" stroke-width="1.0" stroke-linejoin="round" />
<polygon points="1175.4,524.8 1195.8,538.4 1198.5,539.8 1198.5,558.1 1175.4,546.6" fill="#6e3406" stroke="#2a1200" stroke-width="1.0" stroke-linejoin="round" />
<ellipse cx="1195.8" cy="529.6" rx="5" ry="3" fill="#a8540c" stroke="#2a1200" stroke-width="0.8" transform="rotate(-5 1195.8 529.6)"/>
<polygon points="1100.7,538.4 1179.5,492.2 1179.5,546.6 1119.8,575.1 1100.7,575.1" fill="#aa560c" stroke="#2a1200" stroke-width="1.2" stroke-linejoin="round" />
<polygon points="1120.4,537.0 1174.8,506.5 1174.8,546.6 1120.4,575.1" fill="#8f4a06" stroke="#2a1200" stroke-width="1.1" stroke-linejoin="round" />
<polygon points="1106.2,539.8 1120.4,537.0 1120.4,575.1 1106.2,569.6" fill="#a2520b" stroke="#2a1200" stroke-width="1.0" stroke-linejoin="round" />
<polygon points="1100.1,535.0 1179.5,485.7 1188.4,486.5 1193.8,490.9 1106.2,539.8" fill="#cc6c12" stroke="#2a1200" stroke-width="1.2" stroke-linejoin="round" />
<polygon points="1178.2,498.3 1193.8,490.6 1193.8,520.7 1179.5,526.2 1178.2,526.2" fill="#9a4c0c" stroke="#2a1200" stroke-width="1.0" stroke-linejoin="round" />
<polygon points="1100.1,535.0 1179.5,485.7 1188.4,486.5 1193.8,490.9 1106.2,539.8" fill="#cc6c12" stroke="#2a1200" stroke-width="1.2" stroke-linejoin="round" />
<polygon points="1100.7,569.6 1106.2,569.6 1120.4,564.2 1140.1,575.1 1140.1,599.5 1134.0,600.9 1122.5,600.2 1100.7,588.7" fill="#7a3c08" stroke="#2a1200" stroke-width="1.2" stroke-linejoin="round" />
<polygon points="1106.2,570.3 1120.4,564.2 1140.1,575.1 1126.6,581.9" fill="#c8680f" stroke="#2a1200" stroke-width="1.0" stroke-linejoin="round" />
<polygon points="1126.6,581.9 1140.1,575.1 1140.1,599.5 1134.0,600.9 1122.5,600.2 1122.5,583.2" fill="#9a4c0c" stroke="#2a1200" stroke-width="1.0" stroke-linejoin="round" />
<ellipse cx="1121.8" cy="572.1" rx="5" ry="3" fill="#a8540c" stroke="#2a1200" stroke-width="0.8" transform="rotate(-5 1121.8 572.1)"/>
<polygon points="1296.0,698.8 1305.1,700.0 1304.0,702.5 1294.7,701.7 1292.6,703.9 1300.0,706.8 1296.9,708.9 1289.0,706.3 1285.3,707.9 1289.6,712.0 1285.0,713.3 1279.9,709.4 1275.2,710.2 1275.7,714.7 1270.4,715.0 1269.1,710.4 1264.1,710.2 1260.7,714.5 1255.7,713.7 1258.3,709.2 1253.9,708.0 1247.3,711.3 1243.4,709.5 1249.4,706.0 1246.5,704.0 1237.7,705.7 1235.6,703.3 1244.0,701.3 1243.0,698.9 1233.6,698.7 1233.6,696.1 1243.1,695.9 1244.1,693.6 1235.7,691.5 1237.9,689.1 1246.6,690.8 1249.6,688.9 1243.7,685.3 1247.6,683.6 1254.2,686.9 1258.5,685.7 1256.1,681.3 1261.1,680.5 1264.4,684.8 1269.4,684.6 1270.8,680.0 1276.1,680.3 1275.5,684.9 1280.2,685.6 1285.4,681.8 1289.9,683.1 1285.5,687.1 1289.2,688.8 1297.1,686.3 1300.2,688.4 1292.8,691.2 1294.8,693.4 1304.1,692.7 1305.2,695.2 1296.0,696.4" fill="#6a6a6a" stroke="#111" stroke-width="1.3" stroke-linejoin="round" />
<polygon points="1296.0,697.8 1305.1,699.0 1304.0,701.5 1294.7,700.7 1292.6,702.9 1300.0,705.8 1296.9,707.9 1289.0,705.3 1285.3,706.9 1289.6,711.0 1285.0,712.3 1279.9,708.4 1275.2,709.2 1275.7,713.7 1270.4,714.0 1269.1,709.4 1264.1,709.2 1260.7,713.5 1255.7,712.7 1258.3,708.2 1253.9,707.0 1247.3,710.3 1243.4,708.5 1249.4,705.0 1246.5,703.0 1237.7,704.7 1235.6,702.3 1244.0,700.3 1243.0,697.9 1233.6,697.7 1233.6,695.1 1243.1,694.9 1244.1,692.6 1235.7,690.5 1237.9,688.1 1246.6,689.8 1249.6,687.9 1243.7,684.3 1247.6,682.6 1254.2,685.9 1258.5,684.7 1256.1,680.3 1261.1,679.5 1264.4,683.8 1269.4,683.6 1270.8,679.0 1276.1,679.3 1275.5,683.9 1280.2,684.6 1285.4,680.8 1289.9,682.1 1285.5,686.1 1289.2,687.8 1297.1,685.3 1300.2,687.4 1292.8,690.2 1294.8,692.4 1304.1,691.7 1305.2,694.2 1296.0,695.4" fill="#a2a2a2" stroke="none" stroke-width="0" stroke-linejoin="round" />
<polygon points="1296.0,696.8 1305.1,698.0 1304.0,700.5 1294.7,699.7 1292.6,701.9 1300.0,704.8 1296.9,706.9 1289.0,704.3 1285.3,705.9 1289.6,710.0 1285.0,711.3 1279.9,707.4 1275.2,708.2 1275.7,712.7 1270.4,713.0 1269.1,708.4 1264.1,708.2 1260.7,712.5 1255.7,711.7 1258.3,707.2 1253.9,706.0 1247.3,709.3 1243.4,707.5 1249.4,704.0 1246.5,702.0 1237.7,703.7 1235.6,701.3 1244.0,699.3 1243.0,696.9 1233.6,696.7 1233.6,694.1 1243.1,693.9 1244.1,691.6 1235.7,689.5 1237.9,687.1 1246.6,688.8 1249.6,686.9 1243.7,683.3 1247.6,681.6 1254.2,684.9 1258.5,683.7 1256.1,679.3 1261.1,678.5 1264.4,682.8 1269.4,682.6 1270.8,678.0 1276.1,678.3 1275.5,682.9 1280.2,683.6 1285.4,679.8 1289.9,681.1 1285.5,685.1 1289.2,686.8 1297.1,684.3 1300.2,686.4 1292.8,689.2 1294.8,691.4 1304.1,690.7 1305.2,693.2 1296.0,694.4" fill="#a2a2a2" stroke="none" stroke-width="0" stroke-linejoin="round" />
<polygon points="1296.0,695.8 1305.1,697.0 1304.0,699.5 1294.7,698.7 1292.6,700.9 1300.0,703.8 1296.9,705.9 1289.0,703.3 1285.3,704.9 1289.6,709.0 1285.0,710.3 1279.9,706.4 1275.2,707.2 1275.7,711.7 1270.4,712.0 1269.1,707.4 1264.1,707.2 1260.7,711.5 1255.7,710.7 1258.3,706.2 1253.9,705.0 1247.3,708.3 1243.4,706.5 1249.4,703.0 1246.5,701.0 1237.7,702.7 1235.6,700.3 1244.0,698.3 1243.0,695.9 1233.6,695.7 1233.6,693.1 1243.1,692.9 1244.1,690.6 1235.7,688.5 1237.9,686.1 1246.6,687.8 1249.6,685.9 1243.7,682.3 1247.6,680.6 1254.2,683.9 1258.5,682.7 1256.1,678.3 1261.1,677.5 1264.4,681.8 1269.4,681.6 1270.8,677.0 1276.1,677.3 1275.5,681.9 1280.2,682.6 1285.4,678.8 1289.9,680.1 1285.5,684.1 1289.2,685.8 1297.1,683.3 1300.2,685.4 1292.8,688.2 1294.8,690.4 1304.1,689.7 1305.2,692.2 1296.0,693.4" fill="#a2a2a2" stroke="none" stroke-width="0" stroke-linejoin="round" />
<polygon points="1296.0,694.8 1305.1,696.0 1304.0,698.5 1294.7,697.7 1292.6,699.9 1300.0,702.8 1296.9,704.9 1289.0,702.3 1285.3,703.9 1289.6,708.0 1285.0,709.3 1279.9,705.4 1275.2,706.2 1275.7,710.7 1270.4,711.0 1269.1,706.4 1264.1,706.2 1260.7,710.5 1255.7,709.7 1258.3,705.2 1253.9,704.0 1247.3,707.3 1243.4,705.5 1249.4,702.0 1246.5,700.0 1237.7,701.7 1235.6,699.3 1244.0,697.3 1243.0,694.9 1233.6,694.7 1233.6,692.1 1243.1,691.9 1244.1,689.6 1235.7,687.5 1237.9,685.1 1246.6,686.8 1249.6,684.9 1243.7,681.3 1247.6,679.6 1254.2,682.9 1258.5,681.7 1256.1,677.3 1261.1,676.5 1264.4,680.8 1269.4,680.6 1270.8,676.0 1276.1,676.3 1275.5,680.9 1280.2,681.6 1285.4,677.8 1289.9,679.1 1285.5,683.1 1289.2,684.8 1297.1,682.3 1300.2,684.4 1292.8,687.2 1294.8,689.4 1304.1,688.7 1305.2,691.2 1296.0,692.4" fill="#a2a2a2" stroke="none" stroke-width="0" stroke-linejoin="round" />
<polygon points="1296.0,693.8 1305.1,695.0 1304.0,697.5 1294.7,696.7 1292.6,698.9 1300.0,701.8 1296.9,703.9 1289.0,701.3 1285.3,702.9 1289.6,707.0 1285.0,708.3 1279.9,704.4 1275.2,705.2 1275.7,709.7 1270.4,710.0 1269.1,705.4 1264.1,705.2 1260.7,709.5 1255.7,708.7 1258.3,704.2 1253.9,703.0 1247.3,706.3 1243.4,704.5 1249.4,701.0 1246.5,699.0 1237.7,700.7 1235.6,698.3 1244.0,696.3 1243.0,693.9 1233.6,693.7 1233.6,691.1 1243.1,690.9 1244.1,688.6 1235.7,686.5 1237.9,684.1 1246.6,685.8 1249.6,683.9 1243.7,680.3 1247.6,678.6 1254.2,681.9 1258.5,680.7 1256.1,676.3 1261.1,675.5 1264.4,679.8 1269.4,679.6 1270.8,675.0 1276.1,675.3 1275.5,679.9 1280.2,680.6 1285.4,676.8 1289.9,678.1 1285.5,682.1 1289.2,683.8 1297.1,681.3 1300.2,683.4 1292.8,686.2 1294.8,688.4 1304.1,687.7 1305.2,690.2 1296.0,691.4" fill="#a2a2a2" stroke="none" stroke-width="0" stroke-linejoin="round" />
<polygon points="1296.0,692.8 1305.1,694.0 1304.0,696.5 1294.7,695.7 1292.6,697.9 1300.0,700.8 1296.9,702.9 1289.0,700.3 1285.3,701.9 1289.6,706.0 1285.0,707.3 1279.9,703.4 1275.2,704.2 1275.7,708.7 1270.4,709.0 1269.1,704.4 1264.1,704.2 1260.7,708.5 1255.7,707.7 1258.3,703.2 1253.9,702.0 1247.3,705.3 1243.4,703.5 1249.4,700.0 1246.5,698.0 1237.7,699.7 1235.6,697.3 1244.0,695.3 1243.0,692.9 1233.6,692.7 1233.6,690.1 1243.1,689.9 1244.1,687.6 1235.7,685.5 1237.9,683.1 1246.6,684.8 1249.6,682.9 1243.7,679.3 1247.6,677.6 1254.2,680.9 1258.5,679.7 1256.1,675.3 1261.1,674.5 1264.4,678.8 1269.4,678.6 1270.8,674.0 1276.1,674.3 1275.5,678.9 1280.2,679.6 1285.4,675.8 1289.9,677.1 1285.5,681.1 1289.2,682.8 1297.1,680.3 1300.2,682.4 1292.8,685.2 1294.8,687.4 1304.1,686.7 1305.2,689.2 1296.0,690.4" fill="#a2a2a2" stroke="none" stroke-width="0" stroke-linejoin="round" />
<polygon points="1296.0,691.8 1305.1,693.0 1304.0,695.5 1294.7,694.7 1292.6,696.9 1300.0,699.8 1296.9,701.9 1289.0,699.3 1285.3,700.9 1289.6,705.0 1285.0,706.3 1279.9,702.4 1275.2,703.2 1275.7,707.7 1270.4,708.0 1269.1,703.4 1264.1,703.2 1260.7,707.5 1255.7,706.7 1258.3,702.2 1253.9,701.0 1247.3,704.3 1243.4,702.5 1249.4,699.0 1246.5,697.0 1237.7,698.7 1235.6,696.3 1244.0,694.3 1243.0,691.9 1233.6,691.7 1233.6,689.1 1243.1,688.9 1244.1,686.6 1235.7,684.5 1237.9,682.1 1246.6,683.8 1249.6,681.9 1243.7,678.3 1247.6,676.6 1254.2,679.9 1258.5,678.7 1256.1,674.3 1261.1,673.5 1264.4,677.8 1269.4,677.6 1270.8,673.0 1276.1,673.3 1275.5,677.9 1280.2,678.6 1285.4,674.8 1289.9,676.1 1285.5,680.1 1289.2,681.8 1297.1,679.3 1300.2,681.4 1292.8,684.2 1294.8,686.4 1304.1,685.7 1305.2,688.2 1296.0,689.4" fill="#a2a2a2" stroke="none" stroke-width="0" stroke-linejoin="round" />
<polygon points="1296.0,690.8 1305.1,692.0 1304.0,694.5 1294.7,693.7 1292.6,695.9 1300.0,698.8 1296.9,700.9 1289.0,698.3 1285.3,699.9 1289.6,704.0 1285.0,705.3 1279.9,701.4 1275.2,702.2 1275.7,706.7 1270.4,707.0 1269.1,702.4 1264.1,702.2 1260.7,706.5 1255.7,705.7 1258.3,701.2 1253.9,700.0 1247.3,703.3 1243.4,701.5 1249.4,698.0 1246.5,696.0 1237.7,697.7 1235.6,695.3 1244.0,693.3 1243.0,690.9 1233.6,690.7 1233.6,688.1 1243.1,687.9 1244.1,685.6 1235.7,683.5 1237.9,681.1 1246.6,682.8 1249.6,680.9 1243.7,677.3 1247.6,675.6 1254.2,678.9 1258.5,677.7 1256.1,673.3 1261.1,672.5 1264.4,676.8 1269.4,676.6 1270.8,672.0 1276.1,672.3 1275.5,676.9 1280.2,677.6 1285.4,673.8 1289.9,675.1 1285.5,679.1 1289.2,680.8 1297.1,678.3 1300.2,680.4 1292.8,683.2 1294.8,685.4 1304.1,684.7 1305.2,687.2 1296.0,688.4" fill="#a2a2a2" stroke="none" stroke-width="0" stroke-linejoin="round" />
<polygon points="1296.0,697.8 1305.1,699.0 1304.0,701.5 1294.7,700.7 1292.6,702.9 1300.0,705.8 1296.9,707.9 1289.0,705.3 1285.3,706.9 1289.6,711.0 1285.0,712.3 1279.9,708.4 1275.2,709.2 1275.7,713.7 1270.4,714.0 1269.1,709.4 1264.1,709.2 1260.7,713.5 1255.7,712.7 1258.3,708.2 1253.9,707.0 1247.3,710.3 1243.4,708.5 1249.4,705.0 1246.5,703.0 1237.7,704.7 1235.6,702.3 1244.0,700.3 1243.0,697.9 1233.6,697.7 1233.6,695.1 1243.1,694.9 1244.1,692.6 1235.7,690.5 1237.9,688.1 1246.6,689.8 1249.6,687.9 1243.7,684.3 1247.6,682.6 1254.2,685.9 1258.5,684.7 1256.1,680.3 1261.1,679.5 1264.4,683.8 1269.4,683.6 1270.8,679.0 1276.1,679.3 1275.5,683.9 1280.2,684.6 1285.4,680.8 1289.9,682.1 1285.5,686.1 1289.2,687.8 1297.1,685.3 1300.2,687.4 1292.8,690.2 1294.8,692.4 1304.1,691.7 1305.2,694.2 1296.0,695.4" fill="none" stroke="#555" stroke-width="0.6" stroke-linejoin="round" />
<polygon points="1296.0,689.8 1305.1,691.0 1305.1,700.0 1296.0,698.8" fill="#8a8a8a" stroke="#1a1a1a" stroke-width="0.8" stroke-linejoin="round" />
<polygon points="1305.1,691.0 1304.0,693.5 1304.0,702.5 1305.1,700.0" fill="#b4b4b4" stroke="#1a1a1a" stroke-width="0.8" stroke-linejoin="round" />
<polygon points="1304.0,693.5 1294.7,692.7 1294.7,701.7 1304.0,702.5" fill="#b4b4b4" stroke="#1a1a1a" stroke-width="0.8" stroke-linejoin="round" />
<polygon points="1294.7,692.7 1292.6,694.9 1292.6,703.9 1294.7,701.7" fill="#b4b4b4" stroke="#1a1a1a" stroke-width="0.8" stroke-linejoin="round" />
<polygon points="1292.6,694.9 1300.0,697.8 1300.0,706.8 1292.6,703.9" fill="#8a8a8a" stroke="#1a1a1a" stroke-width="0.8" stroke-linejoin="round" />
<polygon points="1300.0,697.8 1296.9,699.9 1296.9,708.9 1300.0,706.8" fill="#b4b4b4" stroke="#1a1a1a" stroke-width="0.8" stroke-linejoin="round" />
<polygon points="1296.9,699.9 1289.0,697.3 1289.0,706.3 1296.9,708.9" fill="#b4b4b4" stroke="#1a1a1a" stroke-width="0.8" stroke-linejoin="round" />
<polygon points="1289.0,697.3 1285.3,698.9 1285.3,707.9 1289.0,706.3" fill="#b4b4b4" stroke="#1a1a1a" stroke-width="0.8" stroke-linejoin="round" />
<polygon points="1285.3,698.9 1289.6,703.0 1289.6,712.0 1285.3,707.9" fill="#8a8a8a" stroke="#1a1a1a" stroke-width="0.8" stroke-linejoin="round" />
<polygon points="1289.6,703.0 1285.0,704.3 1285.0,713.3 1289.6,712.0" fill="#b4b4b4" stroke="#1a1a1a" stroke-width="0.8" stroke-linejoin="round" />
<polygon points="1285.0,704.3 1279.9,700.4 1279.9,709.4 1285.0,713.3" fill="#b4b4b4" stroke="#1a1a1a" stroke-width="0.8" stroke-linejoin="round" />
<polygon points="1279.9,700.4 1275.2,701.2 1275.2,710.2 1279.9,709.4" fill="#b4b4b4" stroke="#1a1a1a" stroke-width="0.8" stroke-linejoin="round" />
<polygon points="1275.2,701.2 1275.7,705.7 1275.7,714.7 1275.2,710.2" fill="#8a8a8a" stroke="#1a1a1a" stroke-width="0.8" stroke-linejoin="round" />
<polygon points="1275.7,705.7 1270.4,706.0 1270.4,715.0 1275.7,714.7" fill="#b4b4b4" stroke="#1a1a1a" stroke-width="0.8" stroke-linejoin="round" />
<polygon points="1270.4,706.0 1269.1,701.4 1269.1,710.4 1270.4,715.0" fill="#b4b4b4" stroke="#1a1a1a" stroke-width="0.8" stroke-linejoin="round" />
<polygon points="1269.1,701.4 1264.1,701.2 1264.1,710.2 1269.1,710.4" fill="#b4b4b4" stroke="#1a1a1a" stroke-width="0.8" stroke-linejoin="round" />
<polygon points="1264.1,701.2 1260.7,705.5 1260.7,714.5 1264.1,710.2" fill="#b4b4b4" stroke="#1a1a1a" stroke-width="0.8" stroke-linejoin="round" />
<polygon points="1260.7,705.5 1255.7,704.7 1255.7,713.7 1260.7,714.5" fill="#b4b4b4" stroke="#1a1a1a" stroke-width="0.8" stroke-linejoin="round" />
<polygon points="1255.7,704.7 1258.3,700.2 1258.3,709.2 1255.7,713.7" fill="#8a8a8a" stroke="#1a1a1a" stroke-width="0.8" stroke-linejoin="round" />
<polygon points="1258.3,700.2 1253.9,699.0 1253.9,708.0 1258.3,709.2" fill="#b4b4b4" stroke="#1a1a1a" stroke-width="0.8" stroke-linejoin="round" />
<polygon points="1253.9,699.0 1247.3,702.3 1247.3,711.3 1253.9,708.0" fill="#b4b4b4" stroke="#1a1a1a" stroke-width="0.8" stroke-linejoin="round" />
<polygon points="1247.3,702.3 1243.4,700.5 1243.4,709.5 1247.3,711.3" fill="#b4b4b4" stroke="#1a1a1a" stroke-width="0.8" stroke-linejoin="round" />
<polygon points="1243.4,700.5 1249.4,697.0 1249.4,706.0 1243.4,709.5" fill="#8a8a8a" stroke="#1a1a1a" stroke-width="0.8" stroke-linejoin="round" />
<polygon points="1249.4,697.0 1246.5,695.0 1246.5,704.0 1249.4,706.0" fill="#b4b4b4" stroke="#1a1a1a" stroke-width="0.8" stroke-linejoin="round" />
<polygon points="1246.5,695.0 1237.7,696.7 1237.7,705.7 1246.5,704.0" fill="#b4b4b4" stroke="#1a1a1a" stroke-width="0.8" stroke-linejoin="round" />
<polygon points="1237.7,696.7 1235.6,694.3 1235.6,703.3 1237.7,705.7" fill="#b4b4b4" stroke="#1a1a1a" stroke-width="0.8" stroke-linejoin="round" />
<polygon points="1235.6,694.3 1244.0,692.3 1244.0,701.3 1235.6,703.3" fill="#8a8a8a" stroke="#1a1a1a" stroke-width="0.8" stroke-linejoin="round" />
<polygon points="1244.0,692.3 1243.0,689.9 1243.0,698.9 1244.0,701.3" fill="#b4b4b4" stroke="#1a1a1a" stroke-width="0.8" stroke-linejoin="round" />
<polygon points="1243.0,689.9 1233.6,689.7 1233.6,698.7 1243.0,698.9" fill="#b4b4b4" stroke="#1a1a1a" stroke-width="0.8" stroke-linejoin="round" />
<polygon points="1233.6,689.7 1233.6,687.1 1233.6,696.1 1233.6,698.7" fill="#8a8a8a" stroke="#1a1a1a" stroke-width="0.8" stroke-linejoin="round" />
<polygon points="1233.6,687.1 1243.1,686.9 1243.1,695.9 1233.6,696.1" fill="#8a8a8a" stroke="#1a1a1a" stroke-width="0.8" stroke-linejoin="round" />
<polygon points="1305.2,686.2 1296.0,687.4 1296.0,696.4 1305.2,695.2" fill="#b4b4b4" stroke="#1a1a1a" stroke-width="0.8" stroke-linejoin="round" />
<polygon points="1296.0,687.4 1296.0,689.8 1296.0,698.8 1296.0,696.4" fill="#b4b4b4" stroke="#1a1a1a" stroke-width="0.8" stroke-linejoin="round" />
<polygon points="1296.0,689.8 1305.1,691.0 1304.0,693.5 1294.7,692.7 1292.6,694.9 1300.0,697.8 1296.9,699.9 1289.0,697.3 1285.3,698.9 1289.6,703.0 1285.0,704.3 1279.9,700.4 1275.2,701.2 1275.7,705.7 1270.4,706.0 1269.1,701.4 1264.1,701.2 1260.7,705.5 1255.7,704.7 1258.3,700.2 1253.9,699.0 1247.3,702.3 1243.4,700.5 1249.4,697.0 1246.5,695.0 1237.7,696.7 1235.6,694.3 1244.0,692.3 1243.0,689.9 1233.6,689.7 1233.6,687.1 1243.1,686.9 1244.1,684.6 1235.7,682.5 1237.9,680.1 1246.6,681.8 1249.6,679.9 1243.7,676.3 1247.6,674.6 1254.2,677.9 1258.5,676.7 1256.1,672.3 1261.1,671.5 1264.4,675.8 1269.4,675.6 1270.8,671.0 1276.1,671.3 1275.5,675.9 1280.2,676.6 1285.4,672.8 1289.9,674.1 1285.5,678.1 1289.2,679.8 1297.1,677.3 1300.2,679.4 1292.8,682.2 1294.8,684.4 1304.1,683.7 1305.2,686.2 1296.0,687.4" fill="#d2cec9" stroke="#111" stroke-width="1.2" stroke-linejoin="round" />
<polygon points="1242.1,609.7 1297.7,576.3 1305.2,576.3 1328.2,590.0 1271.4,624.7" fill="#2c2c2c" stroke="#000" stroke-width="1.2" stroke-linejoin="round" />
<polygon points="1271.4,624.7 1328.2,590.0 1328.2,650.5 1298.5,672.0 1270.5,693.5" fill="#222222" stroke="#000" stroke-width="1.2" stroke-linejoin="round" />
<polygon points="1242.1,609.7 1271.4,624.7 1270.5,693.5 1242.1,678.0" fill="#1a1a1a" stroke="#000" stroke-width="1.2" stroke-linejoin="round" />
<polygon points="1328.2,623.5 1331.0,623.5 1339.4,629.3 1339.4,633.5 1328.2,640.2" fill="#2a2a2a" stroke="#000" stroke-width="1" stroke-linejoin="round" />
<polygon points="1231.3,659.6 1242.1,653.8 1269.3,667.6 1260.0,675.1" fill="#2e2e2e" stroke="#000" stroke-width="1" stroke-linejoin="round" />
<polygon points="1231.3,659.6 1260.0,675.1 1260.0,679.8 1231.3,663.6" fill="#1c1c1c" stroke="#000" stroke-width="1" stroke-linejoin="round" />
<polygon points="1247.0,634.0 1258.0,631.0 1258.0,639.0 1247.0,641.0" fill="#e8e8e8" stroke="#111" stroke-width="0.5" stroke-linejoin="round" />
<polyline points="1247.0,634.0 1257.0,631.0" fill="none" stroke="#c01010" stroke-width="1.2" />
</g>
<g id="callouts">
<polyline points="578.8,123.9 907.5,123.9 786.1,376.6" fill="none" stroke="#222" stroke-width="1.1"/>
<polyline points="1302,150.6 968.6,150.6 865.5,283.7" fill="none" stroke="#222" stroke-width="1.1"/>
<polyline points="1426.9,260.4 1098.8,260.4 923.5,290.3" fill="none" stroke="#222" stroke-width="1.1"/>
<polyline points="1485.1,385.1 1173.8,385.1 1045,512" fill="none" stroke="#222" stroke-width="1.1"/>
<polyline points="646.9,478.4 790,478.4 800,472" fill="none" stroke="#222" stroke-width="1.1"/>
<polyline points="1294.2,772.7 968.2,772.7 897.9,686.6" fill="none" stroke="#222" stroke-width="1.1"/>
</g>
</svg>
<svg id="textsvg" width="1600" height="957" viewBox="0 0 1600 957">
<g id="texts">
<text transform="translate(30.73,72.90) scale(0.8894,1)" font-size="25.29" fill="#000">ITEM</text>
<text transform="translate(33.41,96.90) scale(1.0551,1)" font-size="25.29" fill="#000">NO.</text>
<text transform="translate(118.51,84.10) scale(0.9362,1)" font-size="24.56" fill="#000">PART NUMBER</text>
<text transform="translate(320.33,83.90) scale(0.9235,1)" font-size="24.71" fill="#000">DESCRIPTION</text>
<text transform="translate(494.74,84.00) scale(0.9804,1)" font-size="24.71" fill="#000">QTY.</text>
<text transform="translate(95.79,145.90) scale(1.0017,1)" font-size="28.05" fill="#000">6x Screws: M3 x</text>
<text transform="translate(96.35,172.50) scale(1.0554,1)" font-size="28.05" fill="#000">10mm</text>
<text transform="translate(96.28,219.30) scale(0.9993,1)" font-size="28.05" fill="#000">4x Screws: M3 x</text>
<text transform="translate(95.57,246.20) scale(1.0792,1)" font-size="28.05" fill="#000">8mm</text>
<text transform="translate(96.77,290.70) scale(0.9969,1)" font-size="28.05" fill="#000">1x Screws: M3 x</text>
<text transform="translate(95.57,317.30) scale(1.0792,1)" font-size="28.05" fill="#000">8mm</text>
<text transform="translate(102.99,360.50) scale(1.0065,1)" font-size="28.05" fill="#000">2x Screws: M3</text>
<text transform="translate(96.15,386.80) scale(1.0305,1)" font-size="28.05" fill="#000">x 12mm</text>
<text transform="translate(96.77,432.50) scale(0.9969,1)" font-size="28.05" fill="#000">1x Screws: M3 x</text>
<text transform="translate(96.66,458.80) scale(1.0513,1)" font-size="28.05" fill="#000">12mm</text>
<text transform="translate(96.77,499.50) scale(0.9969,1)" font-size="28.05" fill="#000">1x Screws: M3 x</text>
<text transform="translate(96.66,525.30) scale(1.0513,1)" font-size="28.05" fill="#000">10mm</text>
<text transform="translate(103.27,615.60) scale(1.0079,1)" font-size="28.05" fill="#000">5x Heat Inserts:</text>
<text transform="translate(95.08,643.20) scale(1.0525,1)" font-size="28.05" fill="#000">M3 (OD 4.2mm,</text>
<text transform="translate(95.06,669.80) scale(1.0590,1)" font-size="28.05" fill="#000">Length 3-4mm).</text>
<text transform="translate(577.65,117.40) scale(1.0038,1)" font-size="28.20" fill="#000">1- 6x Screws: M3 x 10mm</text>
<text transform="translate(977.96,145.40) scale(1.0081,1)" font-size="28.20" fill="#000">5- 1x Screws: M3 x 12mm</text>
<text transform="translate(1102.78,255.20) scale(1.0056,1)" font-size="28.20" fill="#000">6- 1x Screws: M3 x 10mm</text>
<text transform="translate(1175.58,380.20) scale(1.0071,1)" font-size="28.20" fill="#000">2- 4x Screws: M3 x 8mm</text>
<text transform="translate(643.29,446.50) scale(1.0405,1)" font-size="28.20" fill="#000">3- m3 8mm</text>
<text transform="translate(972.08,767.40) scale(1.0035,1)" font-size="28.20" fill="#000">4- 2x Screws: M3 x 12mm</text>
<text transform="translate(49.20,158.00) scale(1.1500,1)" font-size="25.00" fill="#000">1</text>
<text transform="translate(49.61,231.80) scale(1.1500,1)" font-size="25.00" fill="#000">2</text>
<text transform="translate(49.69,303.05) scale(1.1500,1)" font-size="25.00" fill="#000">3</text>
<text transform="translate(49.72,372.50) scale(1.1500,1)" font-size="25.00" fill="#000">4</text>
<text transform="translate(49.64,444.40) scale(1.1500,1)" font-size="25.00" fill="#000">5</text>
<text transform="translate(49.52,511.50) scale(1.1500,1)" font-size="25.00" fill="#000">6</text>
<text transform="translate(49.61,643.80) scale(1.0000,1)" font-size="29.36" fill="#000">7</text>
<text transform="translate(49.61,767.45) scale(1.1500,1)" font-size="25.00" fill="#000">8</text>
<text transform="translate(49.64,809.90) scale(1.1500,1)" font-size="25.00" fill="#000">9</text>
<text transform="translate(41.07,868.90) scale(1.1500,1)" font-size="25.00" fill="#000">10</text>
<text transform="translate(42.28,943.95) scale(1.1500,1)" font-size="25.00" fill="#000">11</text>
<text transform="translate(512.69,159.00) scale(1.1500,1)" font-size="28.20" fill="#000">6</text>
<text transform="translate(512.91,232.80) scale(1.1500,1)" font-size="28.20" fill="#000">4</text>
<text transform="translate(512.33,304.05) scale(1.1500,1)" font-size="28.20" fill="#000">1</text>
<text transform="translate(512.79,373.50) scale(1.1500,1)" font-size="28.20" fill="#000">2</text>
<text transform="translate(512.33,445.40) scale(1.1500,1)" font-size="28.20" fill="#000">1</text>
<text transform="translate(512.33,512.50) scale(1.1500,1)" font-size="28.20" fill="#000">1</text>
<text transform="translate(513.71,643.60) scale(1.0000,1)" font-size="28.49" fill="#000">5</text>
</g>
</svg>
</body></html>
